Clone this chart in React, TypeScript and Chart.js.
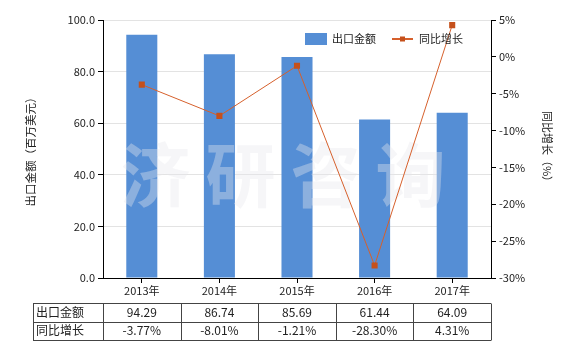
import React, { useEffect, useRef } from 'react';
import { Chart, registerables } from 'chart.js';

Chart.register(...registerables);

const categories = ['2013年', '2014年', '2015年', '2016年', '2017年'];
const exportValues = [94.29, 86.74, 85.69, 61.44, 64.09];
const growthValues = [-3.77, -8.01, -1.21, -28.3, 4.31];
const seriesNames = ['出口金额', '同比增长'];
const leftTitle = '出口金额（百万美元）';
const rightTitle = '同比增长（%）';
const watermark = ['济', '研', '咨', '询'];

const FONT = '"Noto Sans CJK SC", "Noto Sans", sans-serif';
const BAR_COLOR = '#558ED5';
const LINE_COLOR = '#D6602C';
const POINT_COLOR = '#C5501B';
const TEXT_COLOR = '#222222';

const overlayPlugin = {
  id: 'overlay',
  afterDatasetDraw(chart: any, args: any) {
    if (args.meta.type !== 'bar') return;
    const ctx = chart.ctx;
    const area = chart.chartArea;
    ctx.save();
    ctx.fillStyle = 'rgba(232,232,236,0.38)';
    ctx.font = `bold 70px ${FONT}`;
    ctx.textAlign = 'center';
    ctx.textBaseline = 'middle';
    const cx = (area.left + area.right) / 2 - 14;
    const cy = (area.top + area.bottom) / 2 + 26;
    const pitch = 85;
    watermark.forEach((ch, i) => {
      ctx.fillText(ch, cx + (i - (watermark.length - 1) / 2) * pitch, cy);
    });
    ctx.restore();
  },
  afterDraw(chart: any) {
    const ctx = chart.ctx;
    const area = chart.chartArea;
    const xs = chart.scales.x;
    ctx.save();
    // legend
    const ly = area.top + 19;
    ctx.fillStyle = BAR_COLOR;
    ctx.fillRect(305, ly - 6, 22, 12);
    ctx.fillStyle = TEXT_COLOR;
    ctx.font = `11px ${FONT}`;
    ctx.textAlign = 'left';
    ctx.textBaseline = 'middle';
    ctx.fillText(seriesNames[0], 332, ly);
    ctx.strokeStyle = LINE_COLOR;
    ctx.lineWidth = 2;
    ctx.beginPath();
    ctx.moveTo(392, ly);
    ctx.lineTo(413, ly);
    ctx.stroke();
    ctx.fillStyle = POINT_COLOR;
    ctx.fillRect(400, ly - 2.5, 5, 5);
    ctx.fillStyle = TEXT_COLOR;
    ctx.fillText(seriesNames[1], 419, ly);

    // data table
    const top = 303;
    const rowH = 18.5;
    const left = 33;
    const bounds: number[] = [left, area.left];
    for (let i = 1; i < categories.length; i++) {
      bounds.push((xs.getPixelForValue(i - 1) + xs.getPixelForValue(i)) / 2);
    }
    bounds.push(area.right);
    ctx.strokeStyle = '#444444';
    ctx.lineWidth = 1;
    ctx.beginPath();
    for (let r = 0; r <= 2; r++) {
      const y = Math.round(top + r * rowH) + 0.5;
      ctx.moveTo(left, y);
      ctx.lineTo(area.right, y);
    }
    const bottom = Math.round(top + 2 * rowH) + 0.5;
    bounds.forEach((b) => {
      const x = Math.round(b) + 0.5;
      ctx.moveTo(x, top + 0.5);
      ctx.lineTo(x, bottom);
    });
    ctx.stroke();
    ctx.fillStyle = TEXT_COLOR;
    ctx.font = `12px ${FONT}`;
    ctx.textBaseline = 'middle';
    const rows = [
      exportValues.map((v) => v.toFixed(2)),
      growthValues.map((v) => v.toFixed(2) + '%'),
    ];
    rows.forEach((row, r) => {
      const y = top + r * rowH + rowH / 2;
      ctx.textAlign = 'left';
      ctx.fillText(seriesNames[r], left + 3, y);
      ctx.textAlign = 'center';
      row.forEach((txt, i) => {
        ctx.fillText(txt, (bounds[i + 1] + bounds[i + 2]) / 2, y);
      });
    });
    ctx.restore();
  },
};

export default function App() {
  const ref = useRef<HTMLCanvasElement | null>(null);
  useEffect(() => {
    document.body.style.margin = '0';
    if (!ref.current) return;
    Chart.defaults.font.family = FONT;
    Chart.defaults.color = TEXT_COLOR;
    const chart = new Chart(ref.current, {
      data: {
        labels: categories,
        datasets: [
          {
            type: 'line',
            label: seriesNames[1],
            data: growthValues,
            yAxisID: 'y1',
            borderColor: LINE_COLOR,
            backgroundColor: POINT_COLOR,
            borderWidth: 1,
            pointStyle: 'rect',
            pointRadius: 4.3,
            pointBorderWidth: 0,
            pointBackgroundColor: POINT_COLOR,
            tension: 0,
            order: 1,
          },
          {
            type: 'bar',
            label: seriesNames[0],
            data: exportValues,
            yAxisID: 'y',
            backgroundColor: BAR_COLOR,
            categoryPercentage: 1,
            barPercentage: 0.4,
            order: 2,
          },
        ],
      } as any,
      options: {
        responsive: false,
        animation: false,
        layout: { padding: { top: 20, left: 0, right: 0, bottom: 0 } },
        plugins: {
          legend: { display: false },
          tooltip: { enabled: false },
        },
        scales: {
          x: {
            grid: {
              offset: false,
              drawOnChartArea: false,
              tickLength: 5,
              tickColor: '#000',
            },
            border: { color: '#000', width: 1 },
            ticks: { padding: 1, font: { size: 11 }, color: TEXT_COLOR, maxRotation: 0 },
            afterFit: (s: any) => {
              s.height = 72;
            },
          },
          y: {
            position: 'left',
            min: 0,
            max: 100,
            ticks: {
              stepSize: 20,
              padding: 3,
              font: { size: 11 },
              color: TEXT_COLOR,
              callback: (v: any) => Number(v).toFixed(1),
            },
            grid: { color: '#E3E3E3', tickColor: '#000', tickLength: 5 },
            border: { color: '#000', width: 1 },
            title: {
              display: true,
              text: leftTitle,
              font: { size: 11.5 },
              color: TEXT_COLOR,
              padding: { top: 24, bottom: 0 },
            },
            afterFit: (s: any) => {
              s.width = 103;
            },
          },
          y1: {
            position: 'right',
            min: -30,
            max: 5,
            ticks: {
              stepSize: 5,
              padding: 3,
              font: { size: 11 },
              color: TEXT_COLOR,
              callback: (v: any) => `${v}%`,
            },
            grid: { drawOnChartArea: false, tickColor: '#000', tickLength: 5 },
            border: { color: '#000', width: 1 },
            title: {
              display: true,
              text: rightTitle,
              font: { size: 11 },
              color: TEXT_COLOR,
              padding: { top: 26, bottom: 0 },
            },
            afterFit: (s: any) => {
              s.width = 89;
            },
          },
        },
      },
      plugins: [overlayPlugin],
    });
    return () => chart.destroy();
  }, []);
  return (
    <div style={{ width: 580, height: 350 }}>
      <canvas ref={ref} width={580} height={350} style={{ display: 'block' }} />
    </div>
  );
}
